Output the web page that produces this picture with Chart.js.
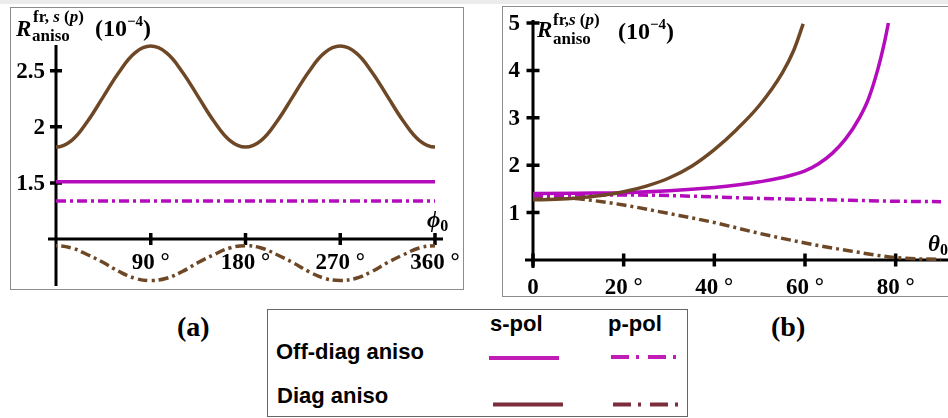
<!DOCTYPE html>
<html>
<head>
<meta charset="utf-8">
<script src="https://cdn.jsdelivr.net/npm/chart.js@4/dist/chart.umd.min.js"></script>
<style>
  body { margin: 0; background: #fff; }
  #wrap { position: relative; width: 948px; height: 418px; overflow: hidden;
          font-family: "Liberation Serif", "Times New Roman", serif; font-weight: bold; color: #000; }
  .frame { position: absolute; border: 1.5px solid #8c8c8c; box-sizing: border-box; }
  canvas { position: absolute; }
  .t { position: absolute; white-space: nowrap; line-height: 1; }
  .lg { position: absolute; white-space: nowrap; line-height: 1;
        font-family: "Liberation Sans", Arial, sans-serif; font-weight: bold; font-size: 22px; }
  #topband { position: absolute; left: 0; top: 0; width: 948px; height: 4px; background: #ececec; }
</style>
</head>
<body>
<div id="wrap">
  <div id="topband"></div>
  <div class="frame" style="left:10px;top:7px;width:454px;height:283px;"></div>
  <div class="frame" style="left:502px;top:6px;width:460px;height:291px;"></div>
  <canvas id="chartA" width="452" height="281" style="left:11px;top:8px;"></canvas>
  <canvas id="chartB" width="445" height="289" style="left:503px;top:7px;"></canvas>

  <!-- axis titles, panel (a) -->
  <span class="t" style="left:16px;top:16.5px;font-size:23px;font-style:italic;">R</span>
  <span class="t" style="left:33px;top:8px;font-size:17px;">fr, <i>s</i> (<i>p</i>)</span>
  <span class="t" style="left:32px;top:27px;font-size:17px;">aniso</span>
  <span class="t" style="left:95px;top:16px;font-size:24px;">(10<span style="font-size:15px;position:relative;top:-10px;">−4</span>)</span>
  <span class="t" style="left:427px;top:208px;font-size:23px;font-style:italic;">ϕ<span style="font-size:16px;font-style:normal;position:relative;top:4px;">0</span></span>

  <!-- axis titles, panel (b) -->
  <span class="t" style="left:537px;top:17.5px;font-size:23px;font-style:italic;">R</span>
  <span class="t" style="left:553px;top:11px;font-size:17px;">fr,<i>s</i> (<i>p</i>)</span>
  <span class="t" style="left:553px;top:30px;font-size:17px;">aniso</span>
  <span class="t" style="left:618px;top:19px;font-size:24px;">(10<span style="font-size:15px;position:relative;top:-10px;">−4</span>)</span>
  <span class="t" style="left:928px;top:232px;font-size:23px;font-style:italic;">θ<span style="font-size:16px;font-style:normal;position:relative;top:4px;">0</span></span>

  <!-- panel tags -->
  <span class="t" style="left:177px;top:313px;font-size:28px;">(a)</span>
  <span class="t" style="left:771px;top:313px;font-size:28px;">(b)</span>

  <!-- legend -->
  <div class="frame" style="left:267px;top:309px;width:421px;height:108px;border-color:#666;"></div>
  <span class="lg" style="left:490px;top:313px;">s-pol</span>
  <span class="lg" style="left:608px;top:313px;">p-pol</span>
  <span class="lg" style="left:276px;top:341px;">Off-diag aniso</span>
  <span class="lg" style="left:277px;top:385px;">Diag aniso</span>
  <svg style="position:absolute;left:0;top:0;" width="948" height="418">
    <line x1="489" y1="358" x2="559" y2="358" stroke="#c21cb6" stroke-width="4"/>
    <line x1="611" y1="357" x2="681" y2="357" stroke="#c21cb6" stroke-width="4" stroke-dasharray="18 7 3 9"/>
    <line x1="493" y1="404.5" x2="563" y2="404.5" stroke="#7b2d3b" stroke-width="4"/>
    <line x1="613" y1="404.5" x2="683" y2="404.5" stroke="#7b2d3b" stroke-width="4" stroke-dasharray="18 7 3 9"/>
  </svg>
</div>

<script>
// Panel (a): reflectance vs azimuth phi0 (degrees), units of 1e-4.
// The periodic curves carry one sample past each end so the spline
// leaves 0 and 360 flat; the plot is clipped at the axis range.
const phiDeg = [-15, 0, 15, 30, 45, 60, 75, 90, 105, 120, 135, 150, 165, 180,
                195, 210, 225, 240, 255, 270, 285, 300, 315, 330, 345, 360, 375];
const phiEnds = [0, 360];
const offDiagSA = [1.51, 1.51];
const offDiagPA = [1.34, 1.34];
const diagSA = [1.88, 1.82, 1.88, 2.05, 2.27, 2.49, 2.66, 2.72, 2.66, 2.49, 2.27, 2.05, 1.88, 1.82,
                1.88, 2.05, 2.27, 2.49, 2.66, 2.72, 2.66, 2.49, 2.27, 2.05, 1.88, 1.82, 1.88];
const diagPA = [0.92, 0.94, 0.92, 0.86, 0.79, 0.71, 0.65, 0.63, 0.65, 0.71, 0.79, 0.86, 0.92, 0.94,
                0.92, 0.86, 0.79, 0.71, 0.65, 0.63, 0.65, 0.71, 0.79, 0.86, 0.92, 0.94, 0.92];
const phiTicks = [90, 180, 270, 360];
const phiTickLabels = ['90 °', '180 °', '270 °', '360 °'];
const rTicksA = [1.5, 2, 2.5];
const rTickLabelsA = ['1.5', '2', '2.5'];

// Panel (b): reflectance vs incidence angle theta0 (degrees)
const thetaOffS = [0, 10, 20, 30, 40, 45, 50, 55, 60, 63, 66, 69, 72, 74, 76, 77.5, 78.4];
const offDiagSB = [1.40, 1.41, 1.42, 1.46, 1.53, 1.58, 1.65, 1.74, 1.88, 2.03, 2.25, 2.56, 3.0, 3.40, 4.0, 4.58, 5.0];
const thetaDiagS = [0, 5, 10, 15, 20, 25, 30, 35, 40, 45, 50, 55, 57.5, 59.6];
const diagSB = [1.27, 1.28, 1.31, 1.36, 1.44, 1.56, 1.73, 1.98, 2.33, 2.76, 3.27, 3.95, 4.42, 4.98];
const thetaP = [0, 10, 20, 30, 40, 50, 60, 70, 80, 90];
const offDiagPB = [1.36, 1.37, 1.37, 1.36, 1.33, 1.30, 1.28, 1.26, 1.24, 1.23];
const diagPB = [1.35, 1.29, 1.16, 0.98, 0.79, 0.56, 0.36, 0.19, 0.05, 0.01];
const thetaTicks = [0, 20, 40, 60, 80];
const thetaTickLabels = ['0', '20 °', '40 °', '60 °', '80 °'];
const rTicksB = [1, 2, 3, 4, 5];
const rTickLabelsB = ['1', '2', '3', '4', '5'];

const BROWN = '#6e4826';
const MAGENTA = '#b40cbc';
const DASHDOT = [10, 4, 3, 4];

const pts = (xs, ys) => xs.map((x, i) => ({ x, y: ys[i] }));

function series(xs, ys, color, dash, smooth) {
    const ds = {
        data: pts(xs, ys),
        borderColor: color,
        borderWidth: 3.5,
        borderDash: dash || [],
        pointRadius: 0,
        fill: false,
        clip: { left: 0, right: 0, top: 4, bottom: 4 }
    };
    if (smooth) ds.tension = 0.4;
    else ds.cubicInterpolationMode = 'monotone';
    return ds;
}

// Mathematica-style crossing axes: thick black lines with ticks through them
function axesPlugin(cfg) {
    return {
        id: 'crossAxes',
        beforeDatasetsDraw(chart) {
            const { ctx, chartArea: ca, scales: { x, y } } = chart;
            const ax = x.getPixelForValue(cfg.yAxisAt);
            const ay = y.getPixelForValue(cfg.xAxisAt);
            ctx.save();
            ctx.strokeStyle = '#000';
            ctx.fillStyle = '#000';
            ctx.lineWidth = 3;
            ctx.beginPath();
            ctx.moveTo(ca.left - cfg.xExt[0], ay);
            ctx.lineTo(ca.right + cfg.xExt[1], ay);
            ctx.moveTo(ax, ca.top - cfg.yExt[0]);
            ctx.lineTo(ax, ca.bottom + cfg.yExt[1]);
            ctx.stroke();

            ctx.lineWidth = 3.5;
            ctx.beginPath();
            cfg.xTicks.forEach(v => {
                const px = x.getPixelForValue(v);
                ctx.moveTo(px, ay - cfg.tick);
                ctx.lineTo(px, ay + cfg.tick);
            });
            cfg.yTicks.forEach(v => {
                const py = y.getPixelForValue(v);
                ctx.moveTo(ax - cfg.tick, py);
                ctx.lineTo(ax + cfg.tick, py);
            });
            ctx.stroke();

            ctx.font = 'bold 23px "Liberation Serif", "Times New Roman", serif';
            ctx.textBaseline = 'middle';
            ctx.textAlign = 'center';
            cfg.xTicks.forEach((v, i) => {
                ctx.fillText(cfg.xLabels[i], x.getPixelForValue(v), ay + cfg.xLabelDy);
            });
            ctx.textAlign = 'right';
            cfg.yTicks.forEach((v, i) => {
                ctx.fillText(cfg.yLabels[i], ax - cfg.yLabelDx, y.getPixelForValue(v) + 1);
            });
            ctx.restore();
        }
    };
}

function baseOptions(pad, xr, yr) {
    return {
        responsive: false,
        animation: false,
        layout: { padding: pad },
        plugins: { legend: { display: false }, tooltip: { enabled: false } },
        scales: {
            x: { type: 'linear', min: xr[0], max: xr[1], display: false },
            y: { type: 'linear', min: yr[0], max: yr[1], display: false }
        }
    };
}

new Chart(document.getElementById('chartA'), {
    type: 'line',
    data: {
        datasets: [
            series(phiDeg, diagSA, BROWN, null, true),
            series(phiEnds, offDiagSA, MAGENTA),
            series(phiEnds, offDiagPA, MAGENTA, DASHDOT),
            series(phiDeg, diagPA, BROWN, DASHDOT, true)
        ]
    },
    options: baseOptions({ left: 45, right: 28, top: 37, bottom: 4 }, [0, 360], [0.59, 2.73]),
    plugins: [axesPlugin({
        yAxisAt: 0, xAxisAt: 1,
        xExt: [8, 8], yExt: [0, 1], tick: 6,
        xTicks: phiTicks, xLabels: phiTickLabels, xLabelDy: 24,
        yTicks: rTicksA, yLabels: rTickLabelsA, yLabelDx: 11
    })]
});

new Chart(document.getElementById('chartB'), {
    type: 'line',
    data: {
        datasets: [
            series(thetaDiagS, diagSB, BROWN),
            series(thetaOffS, offDiagSB, MAGENTA),
            series(thetaP, offDiagPB, MAGENTA, DASHDOT),
            series(thetaP, diagPB, BROWN, DASHDOT)
        ]
    },
    options: baseOptions({ left: 30, right: 7, top: 16, bottom: 36 }, [0, 90], [0, 5]),
    plugins: [axesPlugin({
        yAxisAt: 0, xAxisAt: 0,
        xExt: [8, 20], yExt: [3, 8], tick: 6.5,
        xTicks: thetaTicks, xLabels: thetaTickLabels, xLabelDy: 28,
        yTicks: rTicksB, yLabels: rTickLabelsB, yLabelDx: 13
    })]
});
</script>
</body>
</html>
